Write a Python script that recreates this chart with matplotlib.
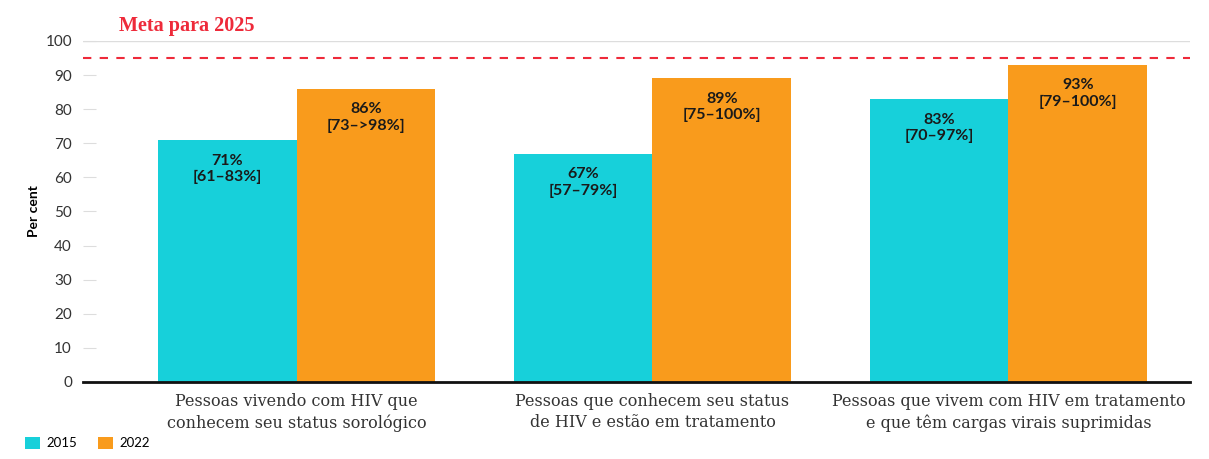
import matplotlib.pyplot as plt
import numpy as np

categories = [
    "Pessoas vivendo com HIV que\nconhecem seu status sorológico",
    "Pessoas que conhecem seu status\nde HIV e estão em tratamento",
    "Pessoas que vivem com HIV em tratamento\ne que têm cargas virais suprimidas",
]
years = ["2015", "2022"]
values_2015 = [71, 67, 83]
values_2022 = [86, 89, 93]
labels_2015 = ["71%\n[61–83%]", "67%\n[57–79%]", "83%\n[70–97%]"]
labels_2022 = ["86%\n[73–>98%]", "89%\n[75–100%]", "93%\n[79–100%]"]
target = 95
target_label = "Meta para 2025"

cyan = "#17d0da"
orange = "#f99b1c"
red = "#ee2a3a"

plt.rcParams['font.family'] = ['Lato', 'DejaVu Sans']

fig = plt.figure(figsize=(12.09, 4.59), dpi=100)
ax = fig.add_axes([0.0687, 0.1678, 0.9155, 0.7429])

x = np.arange(len(categories))
w = 0.39
b1 = ax.bar(x - w / 2, values_2015, w, color=cyan, label=years[0])
b2 = ax.bar(x + w / 2, values_2022, w, color=orange, label=years[1])

for bars, labs in [(b1, labels_2015), (b2, labels_2022)]:
    for bar, lab in zip(bars, labs):
        ax.text(bar.get_x() + bar.get_width() / 2, bar.get_height() - 4, lab,
                ha='center', va='top', fontsize=11.5, fontweight='bold',
                color='#1a1a1a', linespacing=1.2)

ax.axhline(100, color='#dddddd', lw=1, zorder=0)
ax.axhline(target, color=red, lw=1.5, ls=(0, (4, 4)), zorder=3)
ax.text(-0.5, 101.5, target_label, color=red, fontsize=14.5, fontweight='bold',
        family='Liberation Serif', va='bottom', ha='left')

ax.set_xlim(-0.6, 2.51)
ax.set_ylim(0, 100)
ax.set_yticks(range(0, 101, 10))
ax.tick_params(axis='y', direction='in', length=9, color='#dddddd',
               labelsize=11, labelcolor='#333333', pad=8)
ax.set_xticks(x)
ax.set_xticklabels(categories, family='DejaVu Serif', fontsize=11.5,
                   color='#333333', linespacing=1.3)
ax.tick_params(axis='x', length=0, pad=8)
for s in ['top', 'right', 'left']:
    ax.spines[s].set_visible(False)
ax.spines['bottom'].set_linewidth(2)
ax.spines['bottom'].set_color('#111111')

ax.set_ylabel("Per cent", fontsize=10, fontweight='bold', labelpad=4)

fig.legend(loc='lower left', bbox_to_anchor=(0.011, -0.005), ncol=2,
           frameon=False, fontsize=9.5, handlelength=1.1, handleheight=1.1,
           columnspacing=1.6, handletextpad=0.5)

fig.savefig("out.png", dpi=100)
